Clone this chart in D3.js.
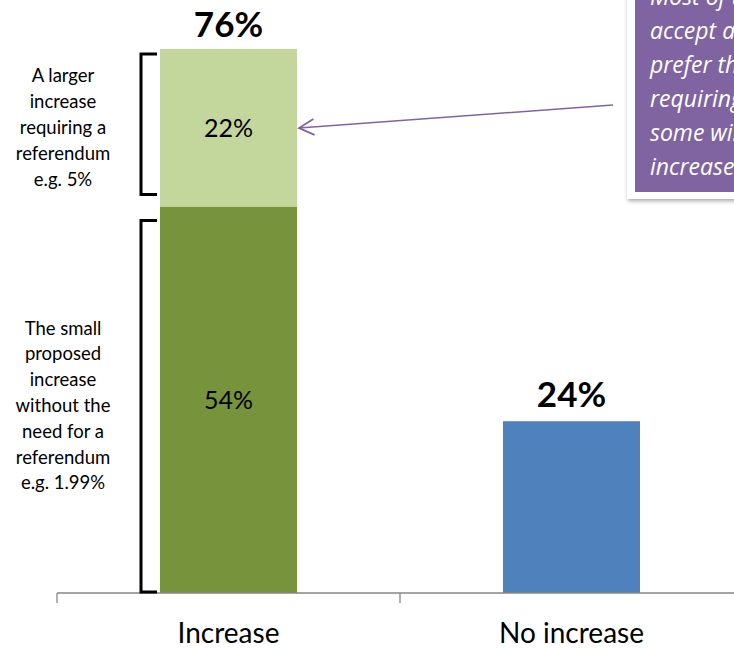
<!DOCTYPE html>
<html><head><meta charset="utf-8">
<script src="https://cdn.jsdelivr.net/npm/d3@7"></script>
<style>body{margin:0;background:#fff;} svg{display:block;font-family:Lato,"Open Sans",sans-serif;}</style>
</head><body>
<script>
const categories = ["Increase", "No increase", "_"];
const smallIncrease = [54, 0];
const largerIncrease = [22, 0];
const noIncrease = [0, 24];
const totals = ["76%", "24%"];
const segLabels = ["54%", "22%"];
const upperNote = ["A larger", "increase", "requiring a", "referendum", "e.g. 5%"];
const lowerNote = ["The small", "proposed", "increase", "without the", "need for a", "referendum", "e.g. 1.99%"];
const calloutLines = ["Most of those", "accept an", "prefer the", "requiring", "some willing", "increase"];

const W = 734, H = 648;
const svg = d3.select("body").append("svg").attr("width", W).attr("height", H);

const x = d3.scaleBand().domain(categories).range([57, 57 + 343 * 3]).paddingInner(0).paddingOuter(0);
const y = d3.scaleLinear().domain([0, 76]).range([593, 49]);
const barW = 137;
const bx = c => x(c) + (x.bandwidth() - barW) / 2;

// bars
const c0 = categories[0], c1 = categories[1];
svg.append("rect").attr("x", bx(c0)).attr("width", barW)
  .attr("y", y(smallIncrease[0])).attr("height", y(0) - y(smallIncrease[0])).attr("fill", "#77933C");
svg.append("rect").attr("x", bx(c0)).attr("width", barW)
  .attr("y", y(smallIncrease[0] + largerIncrease[0])).attr("height", y(smallIncrease[0]) - y(smallIncrease[0] + largerIncrease[0])).attr("fill", "#C3D69B");
svg.append("rect").attr("x", bx(c1)).attr("width", barW)
  .attr("y", y(noIncrease[1])).attr("height", y(0) - y(noIncrease[1])).attr("fill", "#4F81BD");

// axis
const axisG = svg.append("g").attr("transform", `translate(0,${y(0)})`);
axisG.append("line").attr("x1", 57).attr("x2", W).attr("y1", 0).attr("y2", 0).attr("stroke", "#868686").attr("stroke-width", 1.3);
[0, 1, 2].forEach(i => {
  const tx = 57 + x.bandwidth() * i;
  axisG.append("line").attr("x1", tx).attr("x2", tx).attr("y1", 0).attr("y2", 10).attr("stroke", "#868686").attr("stroke-width", 1.3);
});
[c0, c1].forEach(c => {
  svg.append("text").attr("x", x(c) + x.bandwidth() / 2).attr("y", 643)
    .attr("text-anchor", "middle").attr("font-size", 28).attr("fill", "#000").text(c);
});

// segment labels
const cx0 = x(c0) + x.bandwidth() / 2;
svg.append("text").attr("x", cx0).attr("y", (y(0) + y(smallIncrease[0])) / 2 + 9)
  .attr("text-anchor", "middle").attr("font-size", 25).text(segLabels[0]);
svg.append("text").attr("x", cx0).attr("y", (y(smallIncrease[0]) + y(76)) / 2 + 9)
  .attr("text-anchor", "middle").attr("font-size", 25).text(segLabels[1]);
// totals
svg.append("text").attr("x", cx0).attr("y", y(76) - 12)
  .attr("text-anchor", "middle").attr("font-size", 35).attr("font-weight", "bold").text(totals[0]);
svg.append("text").attr("x", x(c1) + x.bandwidth() / 2).attr("y", y(24) - 14)
  .attr("text-anchor", "middle").attr("font-size", 35).attr("font-weight", "bold").text(totals[1]);

// brackets
function bracket(top, bottom) {
  const xl = 141, xr = 157;
  svg.append("path").attr("d", `M${xr},${top} H${xl} V${bottom} H${xr}`)
    .attr("fill", "none").attr("stroke", "#000").attr("stroke-width", 3);
}
bracket(y(76) + 5, y(smallIncrease[0]) - 12);
bracket(y(smallIncrease[0]) + 14, y(0) - 1);

function note(lines, midY) {
  const lh = 25.8;
  const t = svg.append("text").attr("text-anchor", "middle").attr("font-size", 18.5).attr("fill", "#000");
  lines.forEach((l, i) => {
    t.append("tspan").attr("x", 63).attr("y", midY + (i - (lines.length - 1) / 2) * lh + 6).text(l);
  });
}
note(upperNote, 128);
note(lowerNote, 406);

// callout
const defs = svg.append("defs");
const f = defs.append("filter").attr("id", "sh").attr("x", "-20%").attr("y", "-20%").attr("width", "140%").attr("height", "140%");
f.append("feDropShadow").attr("dx", 1).attr("dy", 2).attr("stdDeviation", 2).attr("flood-color", "#000").attr("flood-opacity", 0.35);
svg.append("rect").attr("x", 627).attr("y", -10).attr("width", 140).attr("height", 209).attr("fill", "#fff").attr("filter", "url(#sh)");
svg.append("rect").attr("x", 635).attr("y", -10).attr("width", 130).attr("height", 202).attr("fill", "#8064A2");
const ct = svg.append("text").attr("font-size", 23).attr("font-style", "italic").attr("fill", "#fff")
  .attr("font-family", "'Open Sans', sans-serif");
calloutLines.forEach((l, i) => {
  ct.append("tspan").attr("x", 650).attr("y", 5 + i * 34).text(l);
});

// arrow
defs.append("marker").attr("id", "arr").attr("viewBox", "0 0 20 20").attr("refX", 18).attr("refY", 10)
  .attr("markerWidth", 20).attr("markerHeight", 20).attr("markerUnits", "userSpaceOnUse").attr("orient", "auto")
  .append("path").attr("d", "M3,2 L18,10 L3,18").attr("fill", "none").attr("stroke", "#8064A2").attr("stroke-width", 1.8);
svg.append("line").attr("x1", 613).attr("y1", 105).attr("x2", 299).attr("y2", 128)
  .attr("stroke", "#8064A2").attr("stroke-width", 1.5).attr("marker-end", "url(#arr)");
</script>
</body></html>
